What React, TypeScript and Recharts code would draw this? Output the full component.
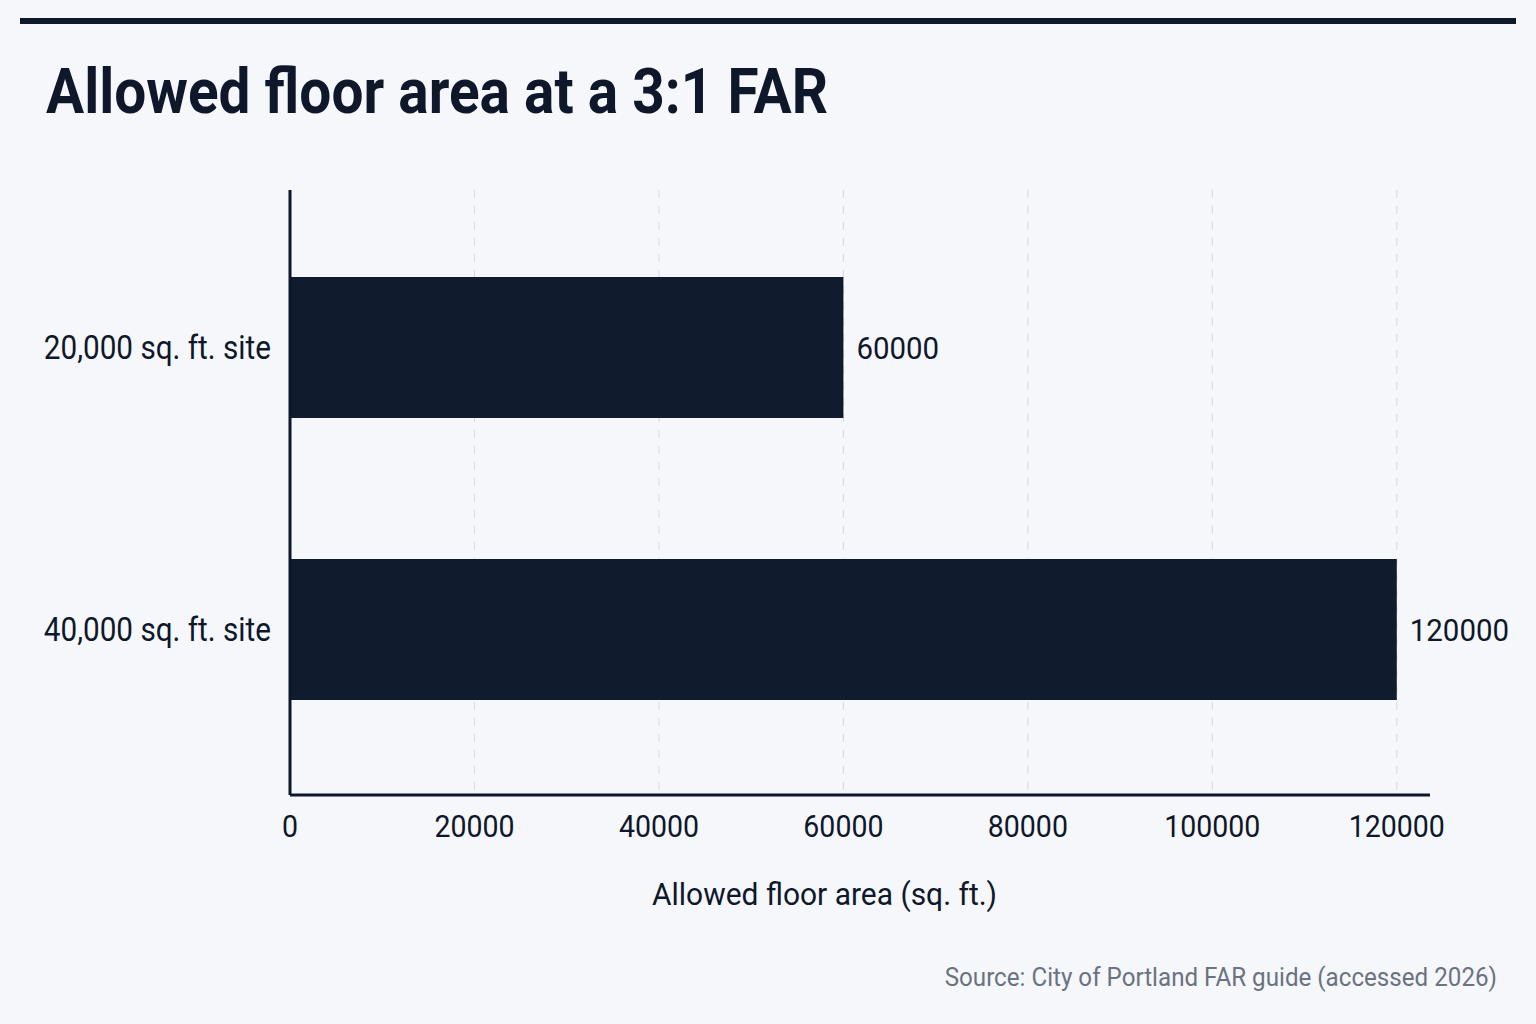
import React from 'react';
import { BarChart, Bar, XAxis, YAxis, CartesianGrid, LabelList } from 'recharts';

const categories = ['20,000 sq. ft. site', '40,000 sq. ft. site'];
const allowedFloorArea = [60000, 120000];
const xTicks = [0, 20000, 40000, 60000, 80000, 100000, 120000];
const xDomainMax = 123600;
const titleText = 'Allowed floor area at a 3:1 FAR';
const xAxisTitle = 'Allowed floor area (sq. ft.)';
const sourceText = 'Source: City of Portland FAR guide (accessed 2026)';

const data = categories.map((c, i) => ({ site: c, area: allowedFloorArea[i] }));

const INK = '#0f172a';
const BAR = '#111b2e';
const BG = '#f5f7fb';
const FONT = 'Roboto, "Noto Sans", sans-serif';

const XTick = (props: any) => {
  const { x, y, payload } = props;
  return (
    <g transform={`translate(${x},${y})`}>
      <text transform="scale(0.92,1)" x={0} y={0} dy={34} textAnchor="middle" fontSize={31} fontFamily={FONT} fill={INK}>
        {payload.value}
      </text>
    </g>
  );
};

const YTick = (props: any) => {
  const { x, y, payload } = props;
  return (
    <g transform={`translate(${x - 11},${y})`}>
      <text transform="scale(0.9,1)" x={0} y={0} dy="0.36em" textAnchor="end" fontSize={33} fontFamily={FONT} fill={INK}>
        {payload.value}
      </text>
    </g>
  );
};

const ValueLabel = (props: any) => {
  const { x, y, width, height, value } = props;
  return (
    <g transform={`translate(${Number(x) + Number(width) + 13},${Number(y) + Number(height) / 2})`}>
      <text transform="scale(0.92,1)" x={0} y={0} dy="0.36em" textAnchor="start" fontSize={32} fontFamily={FONT} fill={INK}>
        {value}
      </text>
    </g>
  );
};

const gridX = (args: any) => {
  const ticks = xTicks.filter((t) => t > 0);
  const s = args?.xAxis?.scale;
  if (typeof s === 'function') return ticks.map((t) => s(t));
  if (s && typeof s.map === 'function') return ticks.map((t) => s.map(t));
  const off = args?.offset;
  if (off && typeof off.left === 'number' && typeof off.width === 'number') {
    return ticks.map((t) => off.left + (t / xDomainMax) * off.width);
  }
  return [];
};

export default function App() {
  return (
    <div style={{ position: 'absolute', left: 0, top: 0, width: 1536, height: 1024, background: BG, overflow: 'hidden' }}>
      <BarChart
        layout="vertical"
        width={1536}
        height={1024}
        data={data}
        margin={{ top: 190, right: 106, bottom: 169, left: 40 }}
      >
        <CartesianGrid
          horizontal={false}
          vertical={true}
          stroke="#d5d9e0"
          strokeDasharray="8 8"
          strokeWidth={1}
          verticalCoordinatesGenerator={gridX}
        />
        <XAxis
          type="number"
          domain={[0, xDomainMax]}
          ticks={xTicks}
          height={60}
          tickLine={false}
          axisLine={{ stroke: INK, strokeWidth: 3 }}
          tick={<XTick />}
          interval={0}
          allowDataOverflow
        />
        <YAxis
          type="category"
          dataKey="site"
          width={250}
          padding={{ top: 16, bottom: 25 }}
          tickLine={false}
          axisLine={{ stroke: INK, strokeWidth: 3 }}
          tick={<YTick />}
          interval={0}
        />
        <Bar dataKey="area" fill={BAR} barSize={141} isAnimationActive={false}>
          <LabelList dataKey="area" content={<ValueLabel />} />
        </Bar>
      </BarChart>
      <svg width={1536} height={1024} style={{ position: 'absolute', left: 0, top: 0, pointerEvents: 'none' }}>
        <rect x={20} y={18} width={1496} height={6} fill={INK} />
        <text x={46} y={113} fontSize={63} fontWeight={700} fontFamily={FONT} fill={INK} textLength={782} lengthAdjust="spacingAndGlyphs">
          {titleText}
        </text>
        <text x={652} y={905} fontSize={32} fontFamily={FONT} fill={INK} textLength={345} lengthAdjust="spacingAndGlyphs">
          {xAxisTitle}
        </text>
        <g transform="translate(1497,986)">
          <text transform="scale(0.93,1)" x={0} y={0} fontSize={26} fontFamily={FONT} fill="#6b7280" textAnchor="end">
            {sourceText}
          </text>
        </g>
      </svg>
    </div>
  );
}
